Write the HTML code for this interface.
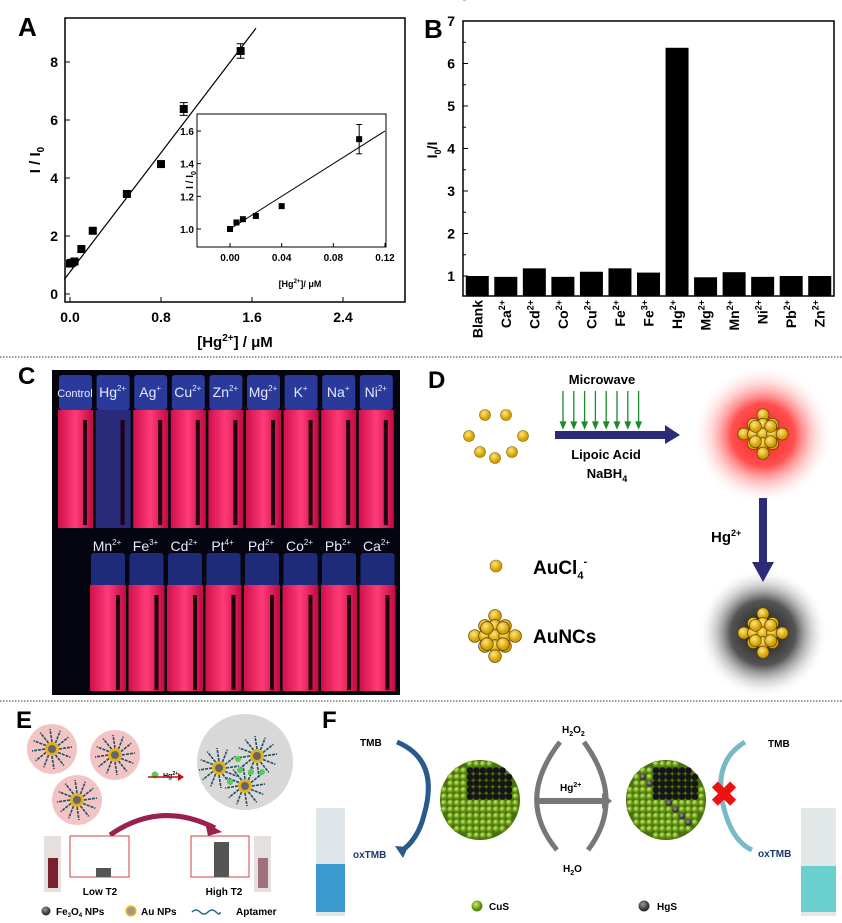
<!DOCTYPE html>
<html><head><meta charset="utf-8"><style>
body{margin:0;background:#fff;font-family:"Liberation Sans",Arial,sans-serif}
svg{display:block}
text{font-family:"Liberation Sans",Arial,sans-serif}
</style></head><body>
<svg id="fig" width="842" height="923" viewBox="0 0 842 923">
<defs>
<radialGradient id="redglow"><stop offset="0" stop-color="#ff1a1a"/><stop offset="0.45" stop-color="#ff5050"/><stop offset="1" stop-color="#fff" stop-opacity="0"/></radialGradient>
<radialGradient id="grayglow"><stop offset="0" stop-color="#111"/><stop offset="0.5" stop-color="#555"/><stop offset="1" stop-color="#fff" stop-opacity="0"/></radialGradient>
<radialGradient id="gold" cx="0.4" cy="0.35"><stop offset="0" stop-color="#ffe680"/><stop offset="1" stop-color="#d4a000"/></radialGradient>
<radialGradient id="green" cx="0.4" cy="0.35"><stop offset="0" stop-color="#c8f060"/><stop offset="1" stop-color="#5a8a10"/></radialGradient>
<radialGradient id="dark" cx="0.4" cy="0.35"><stop offset="0" stop-color="#999"/><stop offset="1" stop-color="#333"/></radialGradient>
<linearGradient id="pinkvial" x1="0" x2="1"><stop offset="0" stop-color="#d0104a"/><stop offset="0.5" stop-color="#ff3a78"/><stop offset="1" stop-color="#c00a40"/></linearGradient>
</defs>
<line x1="0" y1="357" x2="842" y2="357" stroke="#333" stroke-dasharray="1.5 1.5"/>
<line x1="0" y1="701" x2="842" y2="701" stroke="#333" stroke-dasharray="1.5 1.5"/>

<g id="panelA">
<text x="18" y="36" font-size="26" font-weight="bold">A</text>
<rect x="65" y="18" width="340" height="284" fill="none" stroke="#000" stroke-width="1.5"/>
<text transform="translate(40,160) rotate(-90)" font-size="15" font-weight="bold" text-anchor="middle">I / I<tspan font-size="10" dy="4">0</tspan></text>
<text x="235" y="347" font-size="15" font-weight="bold" text-anchor="middle">[Hg<tspan font-size="10" dy="-6">2+</tspan><tspan dy="6">] / μM</tspan></text>
<rect x="197" y="114" width="189" height="133" fill="#fff" stroke="#000"/>
<text transform="translate(193,180) rotate(-90)" font-size="10" font-weight="bold" text-anchor="middle">I / I<tspan font-size="7" dy="3">0</tspan></text>
<text x="300" y="287" font-size="9" font-weight="bold" text-anchor="middle">[Hg<tspan font-size="6" dy="-4">2+</tspan><tspan dy="4">]/ μM</tspan></text>
</g>

<g id="panelB">
<text x="424" y="38" font-size="26" font-weight="bold">B</text>
<rect x="463" y="21" width="371" height="275" fill="none" stroke="#000" stroke-width="1.5"/>
<text transform="translate(437,150) rotate(-90)" font-size="14" font-weight="bold" text-anchor="middle">I<tspan font-size="9" dy="4">0</tspan><tspan dy="-4">/I</tspan></text>
</g>

<g>
<text x="18" y="384" font-size="24" font-weight="bold">C</text>
<rect x="52" y="370" width="348" height="325" fill="#050510"/>
<g id="vialsTop"></g><g id="vialsBot"></g>
</g>

<g>
<text x="428" y="388" font-size="24" font-weight="bold">D</text>
<circle cx="763" cy="435" r="70" fill="url(#redglow)"/>
<circle cx="763" cy="633" r="65" fill="url(#grayglow)"/>
<g id="dots"></g>
<text x="602" y="384" font-size="13" font-weight="bold" text-anchor="middle">Microwave</text>
<g id="mw" stroke="#1a8a2a" stroke-width="1.3" fill="#1a8a2a"></g>
<polygon points="555,431 665,431 665,425 680,435 665,444 665,439 555,439" fill="#2b2b7a"/>
<text x="606" y="459" font-size="13" font-weight="bold" text-anchor="middle">Lipoic Acid</text>
<text x="607" y="478" font-size="13" font-weight="bold" text-anchor="middle">NaBH<tspan font-size="9" dy="4">4</tspan></text>
<polygon points="759,498 767,498 767,562 774,562 763,582 752,562 759,562" fill="#2b2b7a"/>
<text x="711" y="542" font-size="15" font-weight="bold">Hg<tspan font-size="9" dy="-6">2+</tspan></text>
<circle cx="496" cy="566" r="6" fill="url(#gold)" stroke="#8a6a00" stroke-width="0.6"/>
<text x="533" y="574" font-size="19" font-weight="bold">AuCl<tspan font-size="11" dy="5">4</tspan><tspan font-size="11" dy="-14">-</tspan></text>
<text x="533" y="643" font-size="19" font-weight="bold">AuNCs</text>
<g id="clusters"></g>
</g>

<g>
<text x="16" y="728" font-size="24" font-weight="bold">E</text>
<circle cx="52" cy="749" r="25" fill="#f2c4c4"/><circle cx="115" cy="755" r="25" fill="#f2c4c4"/><circle cx="77" cy="800" r="25" fill="#f2c4c4"/>
<circle cx="245" cy="762" r="48" fill="#d8d8d8"/>
<g id="eparts"></g>
<circle cx="155" cy="775" r="3.5" fill="#5c5"/>
<text x="163" y="778" font-size="7" font-weight="bold">Hg<tspan font-size="5" dy="-3">2+</tspan></text>
<line x1="148" y1="777" x2="178" y2="777" stroke="#c01010" stroke-width="1.5"/><polygon points="178,773 184,777 178,781" fill="#c01010"/>
<path d="M110,835 Q160,800 215,828" fill="none" stroke="#9a2050" stroke-width="5"/><polygon points="205,822 222,832 208,836" fill="#9a2050"/>
<rect x="44" y="836" width="17" height="56" fill="#e6e0dc"/><rect x="48" y="858" width="10" height="30" fill="#7a2030"/>
<rect x="254" y="836" width="17" height="56" fill="#e6e0dc"/><rect x="258" y="858" width="10" height="30" fill="#a07080"/>
<rect x="70" y="836" width="59" height="41" fill="#fff" stroke="#d04040"/>
<rect x="96" y="868" width="15" height="9" fill="#555"/>
<rect x="191" y="836" width="58" height="41" fill="#fff" stroke="#d04040"/>
<rect x="214" y="842" width="15" height="35" fill="#555"/>
<text x="100" y="895" font-size="10" font-weight="bold" text-anchor="middle">Low T2</text>
<text x="224" y="895" font-size="10" font-weight="bold" text-anchor="middle">High T2</text>
<circle cx="46" cy="911" r="4.5" fill="url(#dark)"/><text x="56" y="915" font-size="10" font-weight="bold">Fe<tspan font-size="6" dy="2">3</tspan><tspan dy="-2">O</tspan><tspan font-size="6" dy="2">4</tspan><tspan dy="-2"> NPs</tspan></text>
<circle cx="131" cy="911" r="4.5" fill="#999" stroke="#e0b020" stroke-width="2"/><text x="141" y="915" font-size="10" font-weight="bold">Au NPs</text>
<path d="M192,912 q4,-4 8,0 t8,0 t8,0 t4,0" fill="none" stroke="#2a6a80" stroke-width="1.5"/><text x="236" y="915" font-size="10" font-weight="bold">Aptamer</text>
</g>

<g>
<text x="322" y="728" font-size="24" font-weight="bold">F</text>
<rect x="316" y="808" width="29" height="108" fill="#dfe6ea"/><rect x="316" y="864" width="29" height="48" fill="#3a9ad0"/>
<rect x="801" y="808" width="35" height="108" fill="#e2e8e8"/><rect x="801" y="866" width="35" height="46" fill="#6ccfcf"/>
<text x="360" y="746" font-size="10" font-weight="bold">TMB</text>
<path d="M397,742 Q440,760 424,815 Q418,840 400,852" fill="none" stroke="#2a5a8a" stroke-width="5"/>
<polygon points="395,846 403,858 408,847" fill="#2a5a8a"/>
<text x="353" y="858" font-size="10" font-weight="bold" fill="#1a3a6a">oxTMB</text>
<g id="spheres"></g>
<path d="M560,742 Q515,800 557,850" fill="none" stroke="#777" stroke-width="5"/>
<path d="M584,742 Q626,800 588,850" fill="none" stroke="#777" stroke-width="5"/>
<text x="562" y="733" font-size="10" font-weight="bold">H<tspan font-size="7" dy="3">2</tspan><tspan dy="-3">O</tspan><tspan font-size="7" dy="3">2</tspan></text>
<text x="563" y="872" font-size="10" font-weight="bold">H<tspan font-size="7" dy="3">2</tspan><tspan dy="-3">O</tspan></text>
<rect x="536" y="798" width="68" height="6" fill="#777"/><polygon points="602,793 612,801 602,809" fill="#777"/>
<text x="560" y="791" font-size="10" font-weight="bold">Hg<tspan font-size="7" dy="-4">2+</tspan></text>
<path d="M745,742 Q715,760 722,800 Q730,840 752,850" fill="none" stroke="#7ab8c8" stroke-width="5"/>
<text x="768" y="747" font-size="10" font-weight="bold">TMB</text>
<text x="758" y="857" font-size="10" font-weight="bold" fill="#1a3a6a">oxTMB</text>
<text x="724" y="806" font-size="34" font-weight="bold" fill="#ee1111" text-anchor="middle">✖</text>
<circle cx="477" cy="906" r="5.5" fill="url(#green)"/><text x="489" y="910" font-size="10" font-weight="bold">CuS</text>
<circle cx="644" cy="906" r="5.5" fill="url(#dark)"/><text x="657" y="910" font-size="10" font-weight="bold">HgS</text>
</g>
</svg>
<script>
const NS="http://www.w3.org/2000/svg";
const fig=document.getElementById('fig');
function mk(tag,attrs,parent,txt){const e=document.createElementNS(NS,tag);for(const k in attrs)e.setAttribute(k,attrs[k]);if(txt!==undefined)e.textContent=txt;(parent||fig).appendChild(e);return e;}

const aX=[0,0.01,0.02,0.04,0.1,0.2,0.5,0.8,1.0,1.5];
const aY=[1.05,1.07,1.08,1.12,1.55,2.18,3.45,4.48,6.38,8.38];
const aErr=[0.08,0.08,0.08,0.08,0.1,0.08,0.06,0.06,0.22,0.25];
const aXTicks=[0.0,0.8,1.6,2.4];
const aYTicks=[0,2,4,6,8];
const aFit=[0.76,5.14];
const inX=[0,0.005,0.01,0.02,0.04,0.1];
const inY=[1.0,1.04,1.06,1.08,1.14,1.55];
const inErr=[0,0,0,0,0,0.09];
const inXTicks=[0.00,0.04,0.08,0.12];
const inYTicks=[1.0,1.2,1.4,1.6];
const inFit=[1.0,5.0];

const pA=document.getElementById('panelA');
const ax=v=>70+v*(91/0.8), ay=v=>294-v*29;
aXTicks.forEach(t=>{const l=mk('line',{x1:ax(t),x2:ax(t),y1:302,y2:297,stroke:'#000'},pA);


const tx=mk('text',{x:ax(t),y:322,'font-size':14,'font-weight':'bold','text-anchor':'middle'},pA,t.toFixed(1));

});
aYTicks.forEach(t=>{mk('line',{x1:65,x2:70,y1:ay(t),y2:ay(t),stroke:'#000'},pA);
const tx=mk('text',{x:58,y:ay(t)+5,'font-size':14,'font-weight':'bold','text-anchor':'end'},pA,t);

});
const fitEnd=1.635;
const fl=mk('line',{x1:ax(-0.05),y1:ay(aFit[0]-0.05*aFit[1]),x2:ax(fitEnd),y2:ay(aFit[0]+fitEnd*aFit[1]),stroke:'#000','stroke-width':1.2},pA);


aX.forEach((x,i)=>{const cx=ax(x),cy=ay(aY[i]),e=aErr[i]*29;
mk('line',{x1:cx,x2:cx,y1:cy-e,y2:cy+e,stroke:'#000'},pA);
mk('line',{x1:cx-4,x2:cx+4,y1:cy-e,y2:cy-e,stroke:'#000'},pA);
mk('line',{x1:cx-4,x2:cx+4,y1:cy+e,y2:cy+e,stroke:'#000'},pA);
const r=mk('rect',{x:cx-4,y:cy-4,width:8,height:8,fill:'#000'},pA);

});
const ix=v=>230+v*(155/0.12), iy=v=>229-(v-1)*(98/0.6);
inXTicks.forEach(t=>{mk('line',{x1:ix(t),x2:ix(t),y1:247,y2:243,stroke:'#000'},pA);
const tx=mk('text',{x:ix(t),y:261,'font-size':10,'font-weight':'bold','text-anchor':'middle'},pA,t.toFixed(2));

});
inYTicks.forEach(t=>{mk('line',{x1:197,x2:201,y1:iy(t),y2:iy(t),stroke:'#000'},pA);
const tx=mk('text',{x:194,y:iy(t)+4,'font-size':10,'font-weight':'bold','text-anchor':'end'},pA,t.toFixed(1));

});
const il=mk('line',{x1:ix(0),y1:iy(inFit[0]),x2:ix(0.12),y2:iy(inFit[0]+0.12*inFit[1]),stroke:'#000'},pA);


inX.forEach((x,i)=>{const cx=ix(x),cy=iy(inY[i]),e=inErr[i]*163;
if(e>0){mk('line',{x1:cx,x2:cx,y1:cy-e,y2:cy+e,stroke:'#000'},pA);
mk('line',{x1:cx-3,x2:cx+3,y1:cy-e,y2:cy-e,stroke:'#000'},pA);mk('line',{x1:cx-3,x2:cx+3,y1:cy+e,y2:cy+e,stroke:'#000'},pA);}
const r=mk('rect',{x:cx-3,y:cy-3,width:6,height:6,fill:'#000'},pA);

});

const bNames=['Blank','Ca','Cd','Co','Cu','Fe','Fe','Hg','Mg','Mn','Ni','Pb','Zn'];
const bCharges=['','2+','2+','2+','2+','2+','3+','2+','2+','2+','2+','2+','2+'];
const bVals=[1.0,0.98,1.18,0.98,1.1,1.18,1.08,6.37,0.97,1.09,0.98,1.0,1.0];
const bTicks=[1,2,3,4,5,6,7];
const pB=document.getElementById('panelB');
const by=v=>276-(v-1)*42.5, slot=371/13, bx=i=>463+slot*(i+0.5);
bTicks.forEach(t=>{mk('line',{x1:463,x2:468,y1:by(t),y2:by(t),stroke:'#000'},pB);
mk('line',{x1:463,x2:466,y1:by(t+0.5),y2:by(t+0.5),stroke:'#000'},pB);
const tx=mk('text',{x:455,y:by(t)+5,'font-size':14,'font-weight':'bold','text-anchor':'end'},pB,t);

});
bVals.forEach((v,i)=>{const r=mk('rect',{x:bx(i)-11.5,y:by(v),width:23,height:296-by(v),fill:'#000'},pB);


const t=mk('text',{transform:`translate(${bx(i)+5},300) rotate(-90)`,'font-size':14,'font-weight':'bold','text-anchor':'end'},pB);


mk('tspan',{},t,bNames[i]);
if(bCharges[i])mk('tspan',{'font-size':9,dy:-6},t,bCharges[i]);});

const topLab=[['Control',''],['Hg','2+'],['Ag','+'],['Cu','2+'],['Zn','2+'],['Mg','2+'],['K','+'],['Na','+'],['Ni','2+']];
const botLab=[['Mn','2+'],['Fe','3+'],['Cd','2+'],['Pt','4+'],['Pd','2+'],['Co','2+'],['Pb','2+'],['Ca','2+']];
const vt=document.getElementById('vialsTop');
topLab.forEach((l,i)=>{const x=57+i*37.6;
mk('rect',{x:x+2,y:375,width:33,height:35,fill:'#2a3a9a',rx:3},vt);
mk('rect',{x:x+1,y:410,width:35,height:118,fill:i==1?'#2a2a7a':'url(#pinkvial)'},vt);
mk('rect',{x:x+26,y:420,width:4,height:105,fill:'#200010'},vt);
const t=mk('text',{x:x+18,y:397,'font-size':l[0]=='Control'?11:14,fill:'#e8e8ff','text-anchor':'middle'},vt,l[0]);


if(l[1])mk('tspan',{'font-size':8,dy:-6},t,l[1]);});
const vb=document.getElementById('vialsBot');
botLab.forEach((l,i)=>{const x=89+i*38.5;
mk('rect',{x:x+2,y:553,width:34,height:35,fill:'#1e2a7a',rx:3},vb);
mk('rect',{x:x+1,y:585,width:36,height:106,fill:'url(#pinkvial)'},vb);
mk('rect',{x:x+27,y:595,width:4,height:95,fill:'#200010'},vb);
const t=mk('text',{x:x+18,y:551,'font-size':14,fill:'#e8e8ff','text-anchor':'middle'},vb,l[0]);


mk('tspan',{'font-size':8,dy:-6},t,l[1]);});

const dg=document.getElementById('dots');
[[485,415],[506,415],[469,436],[523,436],[480,452],[495,458],[512,452]].forEach(p=>mk('circle',{cx:p[0],cy:p[1],r:5.5,fill:'url(#gold)',stroke:'#8a6a00','stroke-width':0.6},dg));
const mw=document.getElementById('mw');
for(let i=0;i<8;i++){const x=563+i*10.8;mk('line',{x1:x,x2:x,y1:391,y2:424},mw);mk('polygon',{points:`${x-2.5},422 ${x+2.5},422 ${x},428`},mw);}
const cl=document.getElementById('clusters');
function cluster(cx,cy,r){const rows=[[0],[-1,0,1],[-2,-1,0,1,2],[-1,0,1],[0]];
rows.forEach((row,j)=>row.forEach(k=>mk('circle',{cx:cx+k*r*1.6,cy:cy+(j-2)*r*1.6,r:r,fill:'url(#gold)',stroke:'#5a4000','stroke-width':0.7},cl)));
[[-0.8,-0.8],[0.8,-0.8],[-0.8,0.8],[0.8,0.8]].forEach(d=>mk('circle',{cx:cx+d[0]*r*1.6,cy:cy+d[1]*r*1.6,r:r,fill:'url(#gold)',stroke:'#5a4000','stroke-width':0.7},cl));}
cluster(763,434,6);cluster(763,633,6);cluster(495,636,6.3);

const ep=document.getElementById('eparts');
function np(cx,cy){for(let a=0;a<12;a++){const t=a*Math.PI/6,c=Math.cos(t),s=Math.sin(t);
mk('path',{d:`M${cx+c*7},${cy+s*7} L${cx+c*20+s*2},${cy+s*20-c*2}`,stroke:'#1f4f60','stroke-width':1.6,fill:'none','stroke-dasharray':'3 1'},ep);}
mk('circle',{cx,cy,r:7,fill:'#e0b020'},ep);mk('circle',{cx,cy,r:4,fill:'#666'},ep);}
np(52,749);np(115,755);np(77,800);np(219,768);np(257,756);np(245,786);
[[238,759],[251,772],[262,772],[230,782],[240,770]].forEach(p=>mk('circle',{cx:p[0],cy:p[1],r:3,fill:'#5c5'},ep));

const sp=document.getElementById('spheres');
function sphere(cx,cy,hg){mk('circle',{cx,cy,r:40,fill:'#4a7010'},sp);
for(let y=-36;y<=36;y+=6.5)for(let x=-36;x<=36;x+=6.5){if(x*x+y*y>38*38)continue;
const cut=(x>-14&&y<0&&x<30&&y>-32);const isHg=hg&&((x*7+y*13)%5===0||((x+y)%4===1&&x<0));
mk('circle',{cx:cx+x,cy:cy+y,r:3.3,fill:cut?'#151515':(isHg?'url(#dark)':'url(#green)')},sp);}}
sphere(480,800,false);sphere(666,800,true);
</script>
</body></html>
